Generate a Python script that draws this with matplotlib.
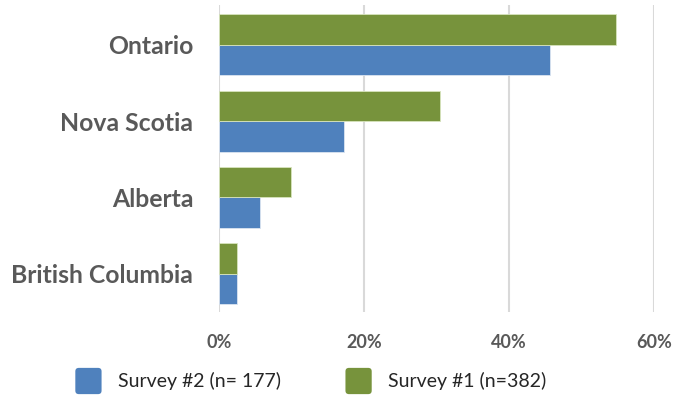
import matplotlib
matplotlib.use("Agg")
import matplotlib.pyplot as plt
import numpy as np
from matplotlib.ticker import FuncFormatter
from matplotlib.patches import FancyBboxPatch
from matplotlib.legend_handler import HandlerPatch

provinces = ["Ontario", "Nova Scotia", "Alberta", "British Columbia"]
survey1 = [0.548, 0.305, 0.099, 0.025]   # Survey #1 (n=382)
survey2 = [0.456, 0.173, 0.057, 0.025]   # Survey #2 (n= 177)
xticks = [0.0, 0.2, 0.4, 0.6]

plt.rcParams["font.family"] = ["Lato", "DejaVu Sans"]


class RoundedSquare(HandlerPatch):
    """Legend key drawn as a square with softly rounded corners."""
    def create_artists(self, legend, orig_handle, xdescent, ydescent,
                       width, height, fontsize, trans):
        side = min(width, height)
        patch = FancyBboxPatch((-xdescent, -ydescent + (height - side) / 2), side, side,
                               boxstyle="round,pad=0,rounding_size=2.5",
                               facecolor=orig_handle.get_facecolor(),
                               edgecolor="none", transform=trans)
        return [patch]


fig = plt.figure(figsize=(6.77, 3.95), dpi=100)
ax = fig.add_axes([219 / 677, 1 - 312 / 395, (654 - 219) / 677, (312 - 5) / 395])

y = np.arange(len(provinces))
h = 0.4
green = "#77933C"
blue = "#4F81BD"
b2 = ax.barh(y + h / 2, survey2, height=h, color=blue, edgecolor="#dbe5f1",
             linewidth=0.6, label="Survey #2 (n= 177)", zorder=3)
b1 = ax.barh(y - h / 2, survey1, height=h, color=green, edgecolor="#d7e4bd",
             linewidth=0.6, label="Survey #1 (n=382)", zorder=3)

ax.set_ylim(3.5, -0.52)
ax.set_xlim(0, 0.6)
ax.set_yticks(y)
ax.set_yticklabels(provinces, fontsize=17.8, fontweight="bold", color="#595959")
ax.set_xticks(xticks)
ax.xaxis.set_major_formatter(FuncFormatter(lambda v, p: f"{v * 100:.0f}%"))
for lab in ax.get_xticklabels():
    lab.set_fontsize(13)
    lab.set_fontweight("bold")
    lab.set_color("#595959")

ax.tick_params(axis="both", length=0)
ax.tick_params(axis="y", pad=18.5)
ax.tick_params(axis="x", pad=16)
ax.grid(axis="x", color="#D9D9D9", linewidth=1.5, zorder=0)
for s in ax.spines.values():
    s.set_visible(False)

h2, h1 = b2.patches[0], b1.patches[0]
leg = fig.legend(handles=[h2, h1], labels=["Survey #2 (n= 177)", "Survey #1 (n=382)"],
                 loc="center", ncol=2, frameon=False,
                 bbox_to_anchor=(311 / 677, 1 - 381 / 395),
                 fontsize=14, handlelength=1.39, handleheight=1.7,
                 columnspacing=3.3, handletextpad=0.82,
                 handler_map={h2: RoundedSquare(), h1: RoundedSquare()})
for t in leg.get_texts():
    t.set_color("#262626")

fig.savefig("out.png", dpi=100)
